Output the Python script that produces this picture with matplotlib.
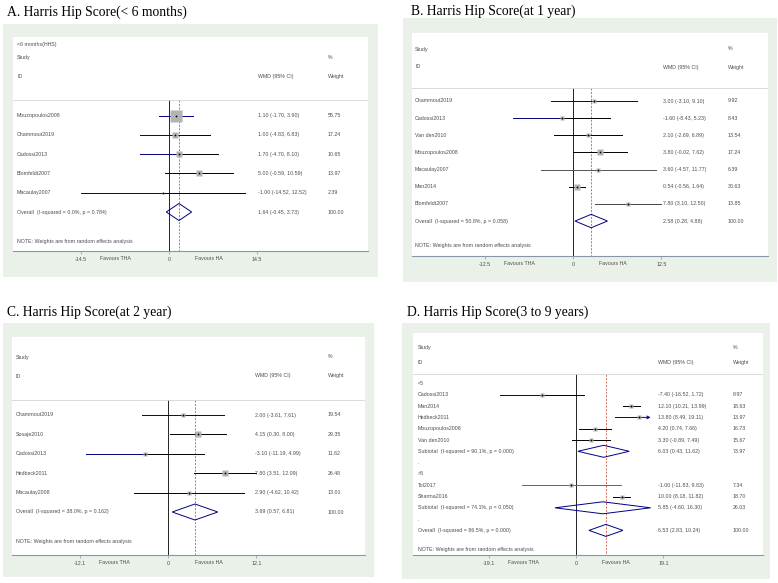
import matplotlib
matplotlib.use('Agg')
import numpy as np
import matplotlib.pyplot as plt
from matplotlib.patches import Rectangle, Polygon

W, H = 778, 583

# ---- data: panel A (< 6 months)
a_title = 'A. Harris Hip Score(< 6 months)'
a_studies = ['Mouzopoulos2008', 'Chammout2019', 'Cadossi2013', 'Blomfeldt2007', 'Macaulay2007']
a_wmd = [1.10, 1.00, 1.70, 5.00, -1.00]
a_lo = [-1.70, -4.83, -4.70, -0.59, -14.52]
a_hi = [3.90, 6.83, 8.10, 10.59, 12.52]
a_weight = [55.75, 17.24, 10.65, 13.97, 2.39]
a_overall = [1.64, -0.45, 3.73]
a_het = 'I-squared = 0.0%, p = 0.784'
a_tick = 14.5

# ---- data: panel B (at 1 year)
b_title = 'B. Harris Hip Score(at 1 year)'
b_studies = ['Chammout2019', 'Cadossi2013', 'Van den2010', 'Mouzopoulos2008',
             'Macaulay2007', 'Man2014', 'Blomfeldt2007']
b_wmd = [3.00, -1.60, 2.10, 3.80, 3.60, 0.54, 7.80]
b_lo = [-3.10, -8.43, -2.69, -0.02, -4.57, -0.56, 3.10]
b_hi = [9.10, 5.23, 6.89, 7.62, 11.77, 1.64, 12.50]
b_weight = [9.92, 8.43, 13.54, 17.24, 6.39, 30.63, 13.85]
b_overall = [2.58, 0.28, 4.88]
b_het = 'I-squared = 50.8%, p = 0.058'
b_tick = 12.5

# ---- data: panel C (at 2 year)
c_title = 'C. Harris Hip Score(at 2 year)'
c_studies = ['Chammout2019', 'Sosaje2010', 'Cadossi2013', 'Hedbeck2011', 'Macaulay2008']
c_wmd = [2.00, 4.15, -3.10, 7.80, 2.90]
c_lo = [-3.61, 0.30, -11.19, 3.51, -4.62]
c_hi = [7.61, 8.00, 4.99, 12.09, 10.42]
c_weight = [19.54, 29.35, 11.62, 26.48, 13.01]
c_overall = [3.69, 0.57, 6.81]
c_het = 'I-squared = 38.0%, p = 0.162'
c_tick = 12.1

# ---- data: panel D (3 to 9 years), two subgroups
d_title = 'D. Harris Hip Score(3 to 9 years)'
d1_name = '<5'
d1_studies = ['Cadossi2013', 'Man2014', 'Hedbeck2011', 'Mouzopoulos2008', 'Van den2010']
d1_wmd = [-7.40, 12.10, 13.80, 4.20, 3.30]
d1_lo = [-16.52, 10.21, 8.49, 0.74, -0.89]
d1_hi = [1.72, 13.99, 19.11, 7.66, 7.49]
d1_weight = [8.97, 18.63, 13.97, 16.73, 15.67]
d1_sub = [6.03, 0.43, 11.62]
d1_sub_weight = 73.97
d1_het = 'I-squared = 90.1%, p = 0.000'
d2_name = '>5'
d2_studies = ['Tol2017', 'Sharma2016']
d2_wmd = [-1.00, 10.00]
d2_lo = [-11.83, 8.18]
d2_hi = [9.83, 11.82]
d2_weight = [7.34, 18.70]
d2_sub = [5.85, -4.60, 16.30]
d2_sub_weight = 26.03
d2_het = 'I-squared = 74.1%, p = 0.050'
d_overall = [6.53, 2.83, 10.24]
d_het = 'I-squared = 86.5%, p = 0.000'
d_tick = 19.1

# CI line colours (left of estimate, right of estimate)
a_col = [('navy', 'navy'), ('navy', 'black'), ('navy', 'black'), ('black', 'black'), ('navy', 'black')]
b_col = [('navy', 'navy'), ('navy', 'black'), ('black', 'black'), ('black', 'black'),
         ('#555555', '#555555'), ('black', 'black'), ('#444444', '#444444')]
c_col = [('navy', 'navy'), ('black', 'black'), ('navy', 'black'), ('black', 'black'), ('black', 'black')]
d1_col = [('navy', 'black'), ('black', 'black'), ('navy', 'navy'), ('black', 'black'), ('black', 'black')]
d2_col = [('#666666', '#666666'), ('black', 'black')]

GREEN = '#e9f1e9'
TXT = '#4d4d4d'
FS = 3.8
SANS = 'Liberation Sans'


def study_rows(names, est, lo, hi, wt, cols):
    return [dict(kind='study', label=n, est=e, lo=l, hi=h, wt=w, col=c)
            for n, e, l, h, w, c in zip(names, est, lo, hi, wt, cols)]


def pool_row(kind, het, vals, wt):
    name = 'Overall' if kind == 'overall' else 'Subtotal'
    return dict(kind=kind, label=name + '  (' + het + ')',
                est=vals[0], lo=vals[1], hi=vals[2], wt=wt)


def draw_panel(title, L, rows, tick, ov):
    gx0, gy0, gx1, gy1 = L['green']
    fig.patches.append(Rectangle((gx0 / W, 1 - gy1 / H), (gx1 - gx0) / W, (gy1 - gy0) / H,
                                 transform=fig.transFigure, facecolor=GREEN,
                                 edgecolor='none', zorder=-10))
    fig.text(L['title'][0] / W, 1 - L['title'][1] / H, title, fontsize=9.8,
             family='Liberation Serif', va='center', ha='left')
    wx0, wy0, wx1, wy1 = L['white']
    null, sc = L['null'], L['scale']
    ax = fig.add_axes([wx0 / W, 1 - wy1 / H, (wx1 - wx0) / W, (wy1 - wy0) / H])
    ax.set_facecolor('white')
    ax.set_xlim((wx0 - null) / sc, (wx1 - null) / sc)
    ax.set_ylim(wy1, wy0)
    for s in ['top', 'left', 'right']:
        ax.spines[s].set_visible(False)
    ax.spines['bottom'].set_color('#8a96a8')
    ax.spines['bottom'].set_linewidth(0.8)
    ax.set_yticks([])
    ax.set_xticks([-tick, 0, tick])
    ax.set_xticklabels(['-%g' % tick, '0', '%g' % tick])
    ax.tick_params(axis='x', direction='out', length=2, width=0.5, color='#8a96a8',
                   labelsize=FS, labelcolor=TXT, pad=2.5)
    for lab in ax.get_xticklabels():
        lab.set_family(SANS)

    px = lambda p: (p - null) / sc
    tk = dict(fontsize=FS, color=TXT, family=SANS, va='center')
    ax.text(-0.43 * tick, wy1 + 7.5, 'Favours THA', ha='right', clip_on=False, **tk)
    ax.text(0.30 * tick, wy1 + 7.5, 'Favours HA', ha='left', clip_on=False, **tk)

    # header
    for txt, y in L['head_left']:
        ax.text(px(L['tx']), y, txt, ha='left', **tk)
    ax.text(px(L['wt_x']), L['study_y'], '%', ha='left', **tk)
    ax.text(px(L['wmd_x']), L['id_y'], 'WMD (95% CI)', ha='left', **tk)
    ax.text(px(L['wt_x']), L['id_y'], 'Weight', ha='left', **tk)
    ax.plot([px(wx0), px(wx1)], [L['hdr'], L['hdr']], color='#d5d5d5', lw=0.6)

    # reference lines
    ax.plot([0, 0], [L['hdr'], wy1], color='black', lw=0.6, zorder=1)
    ax.plot([ov, ov], [L['hdr'], wy1], color='#c0392b', lw=0.5, ls=(0, (3, 2)), zorder=1)

    clip = L.get('clip', 1e9)
    for i, r in enumerate(rows):
        y = L['row0'] + i * L['row']
        if r['kind'] in ('label', 'blank'):
            ax.text(px(L['tx']), y, r['label'], ha='left', **tk)
            continue
        ax.text(px(L['tx']), y, r['label'], ha='left', **tk)
        ax.text(px(L['wmd_x']), y, '%.2f (%.2f, %.2f)' % (r['est'], r['lo'], r['hi']), ha='left', **tk)
        ax.text(px(L['wt_x']), y, '%.2f' % r['wt'], ha='left', **tk)
        if r['kind'] == 'study':
            cl, cr = r['col']
            ax.plot([r['lo'], r['est']], [y, y], color=cl, lw=0.7, zorder=2)
            if r['hi'] > clip:
                ax.annotate('', xy=(clip, y), xytext=(r['est'], y),
                            arrowprops=dict(arrowstyle='->', color=cr, lw=0.7,
                                            mutation_scale=5, shrinkA=0, shrinkB=0))
            else:
                ax.plot([r['est'], r['hi']], [y, y], color=cr, lw=0.7, zorder=2)
            side = L['box_k'] * np.sqrt(r['wt']) * 0.72
            ax.plot(r['est'], y, marker='s', ms=side, color='#b3b3b3', mec='none', zorder=3)
            ax.plot(r['est'], y, marker='o', ms=1.3, color='black', mec='none', zorder=4)
        else:
            h = L['dia_h']
            ax.add_patch(Polygon([(r['lo'], y), (r['est'], y - h), (r['hi'], y), (r['est'], y + h)],
                                 closed=True, fill=False, edgecolor='navy', lw=0.7, zorder=3))
    ax.text(px(L['tx']), L['note'], 'NOTE: Weights are from random effects analysis', ha='left', **tk)


fig = plt.figure(figsize=(W / 100, H / 100), dpi=100)
fig.patch.set_facecolor('white')

lay_a = dict(title=(7, 12), green=(3, 24, 378, 277), white=(13, 37, 368, 251), null=169,
             scale=88 / 14.5, hdr=100, row0=115.5, row=19.3, note=241, tx=17, wmd_x=258,
             wt_x=328, study_y=57, id_y=76,
             head_left=[('<6 months(HHS)', 44), ('Study', 57), ('ID', 76)], box_k=1.6, dia_h=8.5)
lay_b = dict(title=(411, 11), green=(403, 18, 777, 282), white=(412, 33, 768, 256), null=573,
             scale=7.06, hdr=88, row0=101, row=17.15, note=246, tx=415, wmd_x=663,
             wt_x=728, study_y=49, id_y=67,
             head_left=[('Study', 49), ('ID', 67)], box_k=1.26, dia_h=6.7)
lay_c = dict(title=(7, 312), green=(3, 323, 374, 577), white=(12, 337, 365, 555), null=168,
             scale=7.31, hdr=400, row0=415, row=19.4, note=541, tx=16, wmd_x=255,
             wt_x=328, study_y=357, id_y=376,
             head_left=[('Study', 357), ('ID', 376)], box_k=1.0, dia_h=8)
lay_d = dict(title=(407, 312), green=(402, 323, 770, 579), white=(413, 333, 763, 555), null=576,
             scale=4.58, hdr=374, row0=383.5, row=11.3, note=549, tx=418, wmd_x=658,
             wt_x=733, study_y=347, id_y=362, clip=16.3,
             head_left=[('Study', 347), ('ID', 362)], box_k=1.15, dia_h=6)

rows_a = study_rows(a_studies, a_wmd, a_lo, a_hi, a_weight, a_col) + \
    [pool_row('overall', a_het, a_overall, 100.0)]
rows_b = study_rows(b_studies, b_wmd, b_lo, b_hi, b_weight, b_col) + \
    [pool_row('overall', b_het, b_overall, 100.0)]
rows_c = study_rows(c_studies, c_wmd, c_lo, c_hi, c_weight, c_col) + \
    [pool_row('overall', c_het, c_overall, 100.0)]
rows_d = [dict(kind='label', label=d1_name)] + \
    study_rows(d1_studies, d1_wmd, d1_lo, d1_hi, d1_weight, d1_col) + \
    [pool_row('subtotal', d1_het, d1_sub, d1_sub_weight), dict(kind='blank', label='.'),
     dict(kind='label', label=d2_name)] + \
    study_rows(d2_studies, d2_wmd, d2_lo, d2_hi, d2_weight, d2_col) + \
    [pool_row('subtotal', d2_het, d2_sub, d2_sub_weight), dict(kind='blank', label='.'),
     pool_row('overall', d_het, d_overall, 100.0)]

draw_panel(a_title, lay_a, rows_a, a_tick, a_overall[0])
draw_panel(b_title, lay_b, rows_b, b_tick, b_overall[0])
draw_panel(c_title, lay_c, rows_c, c_tick, c_overall[0])
draw_panel(d_title, lay_d, rows_d, d_tick, d_overall[0])

fig.savefig('out.png', dpi=100, facecolor='white')
